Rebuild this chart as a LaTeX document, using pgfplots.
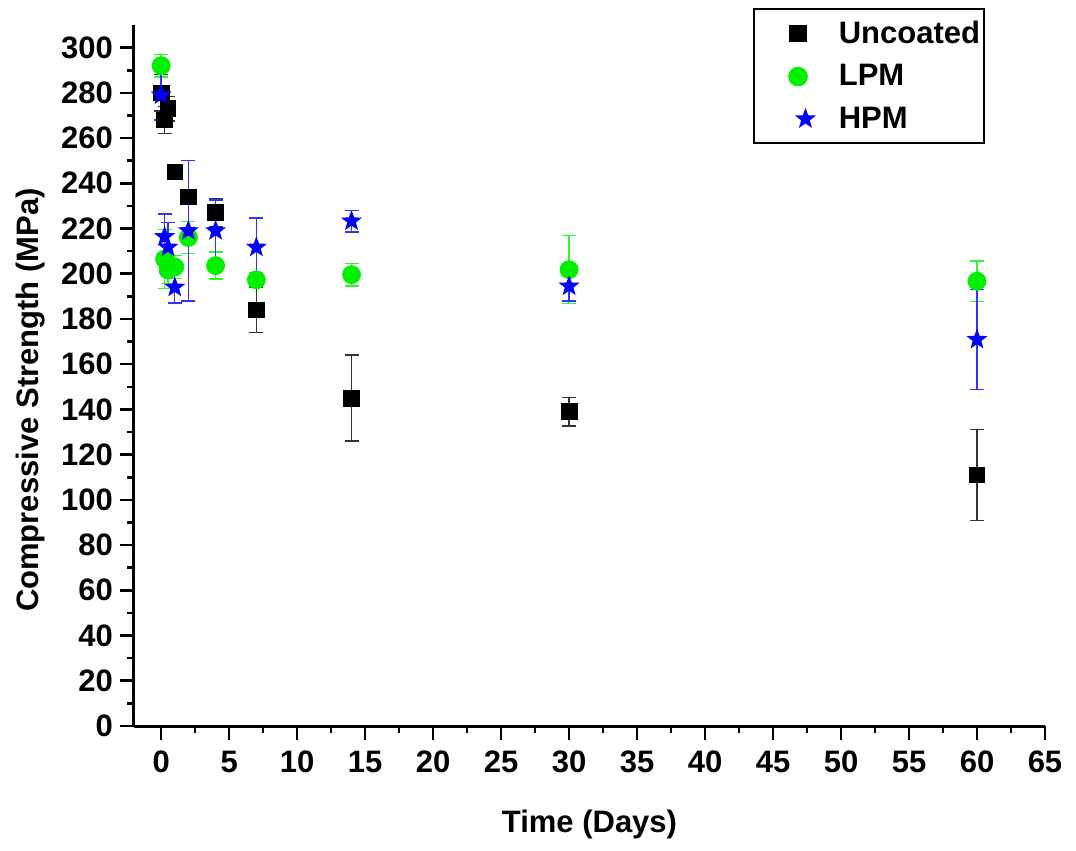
\documentclass[border=0pt]{standalone}
\usepackage{pgfplots}
\pgfplotsset{compat=1.18}
\usepackage{pgfplotstable}
\usetikzlibrary{shapes.geometric}
\usepackage{fontspec}
\setmainfont{Liberation Sans}

\definecolor{lpmgreen}{RGB}{0,240,0}
\definecolor{hpmblue}{RGB}{0,0,255}

% filled five-pointed star, as Origin draws it
\pgfdeclareplotmark{fstar}{%
  \node[star, star points=5, star point ratio=2.4, inner sep=0pt,
        minimum size=2.2\pgfplotmarksize, fill, draw=none] {};}

% days, mean strength, error
\pgfplotstableread{
x y e
0 280 8
0.25 268 6
0.5 273 5.5
1 245 3
2 234 3
4 227 6
7 184 10
14 145 19
30 139 6.3
60 111 20
}\uncoated
\pgfplotstableread{
x y e
0 292 5
0.25 206.5 13
0.5 201.7 6
1 203 5
2 216 7
4 203.6 6
7 197.3 3
14 199.6 5
30 201.8 15
60 196.7 9
}\lpm
\pgfplotstableread{
x y e
0 279 11
0.25 216.4 10
0.5 211.7 11
1 194 7
2 219 31
4 219 13.6
7 211.7 13
14 223.3 4.8
30 194.5 6.5
60 170.9 22
}\hpm

\begin{document}
\begin{tikzpicture}
\begin{axis}[
    scale only axis,
    width=455.5pt, height=350.5pt,
    xmin=-2, xmax=65,
    ymin=0, ymax=310,
    axis lines=left,
    axis line style={-, line width=1.5pt},
    xtick={0,5,...,65},
    ytick={0,20,...,300},
    minor tick num=1,
    tick align=outside,
    major tick length=7pt,
    minor tick length=3.5pt,
    every tick/.style={line width=1.3pt, black},
    /pgf/number format/assume math mode=true,
    tick label style={font=\fontsize{15.5}{18}\selectfont\bfseries},
    xticklabel style={yshift=-2pt},
    xlabel={Time (Days)},
    ylabel={Compressive Strength (MPa)},
    every axis x label/.style={at={(axis description cs:0.5,-0.141)}, anchor=center,
        font=\fontsize{15.5}{18}\selectfont\bfseries},
    every axis y label/.style={at={(axis description cs:-0.114,0.465)}, rotate=90, anchor=center,
        font=\fontsize{15.5}{18}\selectfont\bfseries},
    legend style={at={(0.934,1.024)}, anchor=north east, draw=black, line width=0.8pt,
        font=\fontsize{15.5}{18}\selectfont\bfseries, row sep=5pt,
        inner xsep=0pt, inner ysep=4pt,
        nodes={inner xsep=2pt},
        /tikz/every odd column/.append style={column sep=2pt}},
    legend cell align=left,
    legend image code/.code={%
        \path (0pt,0pt) (37.5pt,0pt);
        \draw[#1] plot coordinates {(21.5pt,0pt)};},
    clip=false,
]
\addplot[only marks, mark=square*, mark size=3.9pt, black,
    error bars/.cd, y dir=both, y explicit, error mark=|,
    error bar style={line width=0.7pt, black!80},
    error mark options={mark size=3.5pt, line width=0.7pt, black!80}]
    table[x=x, y=y, y error=e] {\uncoated};
\addlegendentry{Uncoated}
\addplot[only marks, mark=*, mark size=4.5pt, lpmgreen,
    error bars/.cd, y dir=both, y explicit, error mark=|,
    error bar style={line width=0.7pt, lpmgreen!80},
    error mark options={mark size=3.5pt, line width=0.7pt, lpmgreen!80}]
    table[x=x, y=y, y error=e] {\lpm};
\addlegendentry{LPM}
\addplot[only marks, mark=fstar, mark size=5pt, hpmblue,
    error bars/.cd, y dir=both, y explicit, error mark=|,
    error bar style={line width=0.7pt, hpmblue!80},
    error mark options={mark size=3.5pt, line width=0.7pt, hpmblue!80}]
    table[x=x, y=y, y error=e] {\hpm};
\addlegendentry{HPM}
\end{axis}
\pgfresetboundingbox
\path (-67pt,-62.5pt) rectangle (471pt,363pt);
\end{tikzpicture}
\end{document}
